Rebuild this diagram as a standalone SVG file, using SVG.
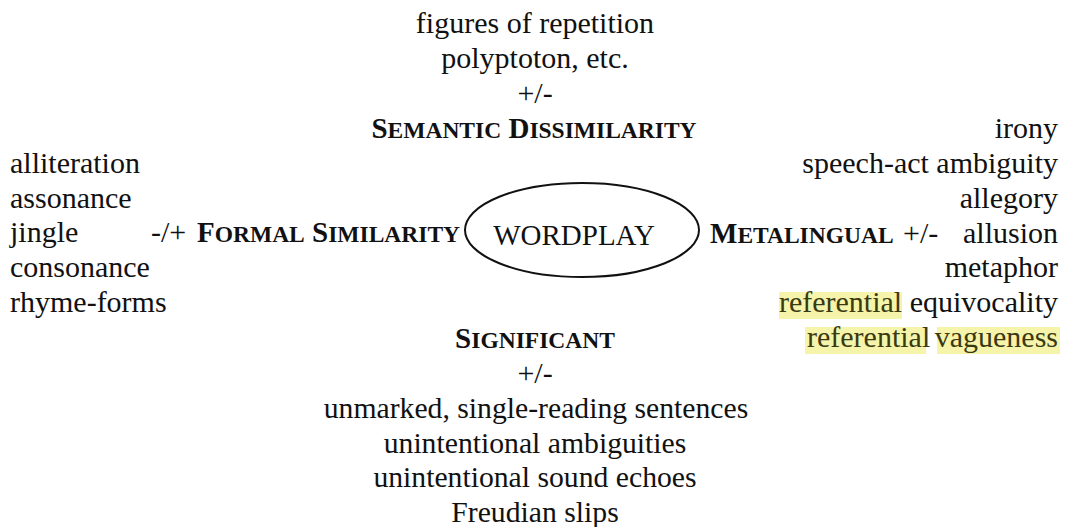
<svg xmlns="http://www.w3.org/2000/svg" width="1065" height="527" viewBox="0 0 1065 527" font-family="Liberation Serif, serif" font-size="30">
<style>
text{fill:#111}
.c{text-anchor:middle}
.r{text-anchor:end}
.b{font-weight:bold;font-size:29px}
.sm{font-size:23.5px}
.bt{font-size:29.7px}
.hl{fill:#f6f4aa}
.ht{fill:#3a3a12}
</style>
<rect width="1065" height="527" fill="#fff"/>
<g id="connectors"/>
<g id="wordplay">
<ellipse cx="582" cy="230" rx="117" ry="47" fill="none" stroke="#111" stroke-width="2"/>
<text x="574" y="245" class="c" font-size="29">WORDPLAY</text>
</g>
<g id="semantic">
<text x="535" y="33" class="c">figures of repetition</text>
<text x="535" y="68" class="c">polyptoton, etc.</text>
<text x="535" y="103" class="c">+/-</text>
<text x="534" y="138" class="c b">S<tspan class="sm">EMANTIC</tspan> D<tspan class="sm">ISSIMILARITY</tspan></text>
</g>
<g id="formal">
<text x="10" y="173">alliteration</text>
<text x="10" y="208">assonance</text>
<text x="10" y="242">jingle</text>
<text x="10" y="277">consonance</text>
<text x="10" y="312">rhyme-forms</text>
<text x="151" y="242">-/+</text>
<text x="197" y="242" class="b">F<tspan class="sm">ORMAL</tspan> S<tspan class="sm">IMILARITY</tspan></text>
</g>
<g id="metalingual">
<rect class="hl" x="779" y="292" width="123" height="27"/>
<rect class="hl" x="805" y="327" width="121" height="27"/>
<rect class="hl" x="937" y="327" width="123" height="27"/>
<text x="1058" y="138" class="r">irony</text>
<text x="1058" y="173" class="r">speech-act ambiguity</text>
<text x="1058" y="208" class="r">allegory</text>
<text x="1058" y="243" class="r">allusion</text>
<text x="1058" y="277" class="r">metaphor</text>
<text x="1058" y="312" class="r"><tspan class="ht">referential</tspan> equivocality</text>
<text x="807" y="347" class="ht">referential</text>
<text x="1058" y="347" class="r ht">vagueness</text>
<text x="710" y="243" class="b">M<tspan class="sm">ETALINGUAL</tspan></text>
<text x="903" y="243">+/-</text>
</g>
<g id="significant">
<text x="535" y="348" class="c b">S<tspan class="sm">IGNIFICANT</tspan></text>
<text x="535" y="383" class="c">+/-</text>
<text x="536" y="418" class="c bt">unmarked, single-reading sentences</text>
<text x="535" y="453" class="c bt">unintentional ambiguities</text>
<text x="535" y="487" class="c bt">unintentional sound echoes</text>
<text x="535" y="522" class="c bt">Freudian slips</text>
</g>
</svg>
